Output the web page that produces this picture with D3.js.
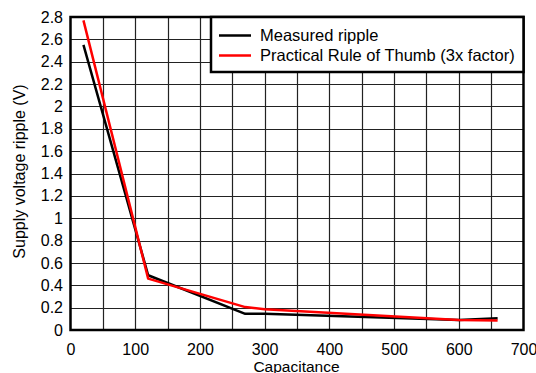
<!DOCTYPE html>
<html><head><meta charset="utf-8">
<script src="https://cdn.jsdelivr.net/npm/d3@7"></script>
<style>body{margin:0;background:#fff}svg{display:block}</style>
</head><body>
<script>
const capacitance = [20, 120, 270, 300, 600, 660];
const measured = [2.55, 0.49, 0.145, 0.145, 0.09, 0.105];
const rcap = [20, 120, 270, 300, 600, 660];
const ruleOfThumb = [2.77, 0.46, 0.205, 0.185, 0.09, 0.085];
const xTicks = [0,100,200,300,400,500,600,700];
const yTicks = [0,0.2,0.4,0.6,0.8,1,1.2,1.4,1.6,1.8,2,2.2,2.4,2.6,2.8];
const seriesNames = ["Measured ripple", "Practical Rule of Thumb (3x factor)"];
const colors = ["#000000", "#ff0000"];

const W = 536, H = 373;
const m = {l:70.5, r:536-523.5, t:17, b:373-330};
const svg = d3.select("body").append("svg").attr("width",W).attr("height",H);
const x = d3.scaleLinear().domain([0,700]).range([m.l, W-m.r]);
const y = d3.scaleLinear().domain([0,2.8]).range([H-m.b, m.t]);
const font = "Liberation Sans, Arial, sans-serif";
const fs = 16;

const g = svg.append("g");
// grid
g.selectAll(".vg").data(d3.range(50,700,50)).enter().append("line")
  .attr("x1",d=>Math.round(x(d))+0.5).attr("x2",d=>Math.round(x(d))+0.5)
  .attr("y1",y(0)).attr("y2",y(2.8)).attr("stroke","#222").attr("stroke-width",1.2);
g.selectAll(".hg").data(yTicks.slice(1,-1)).enter().append("line")
  .attr("y1",d=>Math.round(y(d))+0.5).attr("y2",d=>Math.round(y(d))+0.5)
  .attr("x1",x(0)).attr("x2",x(700)).attr("stroke","#222").attr("stroke-width",1.2);

// axes labels via d3 axes
const xa = svg.append("g").attr("transform",`translate(0,${y(0)})`)
  .call(d3.axisBottom(x).tickValues(xTicks).tickSize(0).tickPadding(0).tickFormat(d3.format("d")));
const ya = svg.append("g").attr("transform",`translate(${x(0)},0)`)
  .call(d3.axisLeft(y).tickValues(yTicks).tickSize(0).tickPadding(7.5).tickFormat(d=>d3.format("~g")(d)));
[xa,ya].forEach(a=>{a.select(".domain").remove();a.selectAll("text").attr("font-family",font).attr("font-size",fs).attr("fill","#000");});
xa.selectAll("text").attr("y",24.5).attr("dy",0);

// lines
const line = d3.line().x(d=>x(d[0])).y(d=>y(d[1]));
svg.append("path").datum(capacitance.map((c,i)=>[c,measured[i]]))
  .attr("d",line).attr("fill","none").attr("stroke",colors[0]).attr("stroke-width",2.5).attr("stroke-linejoin","round");
svg.append("path").datum(rcap.map((c,i)=>[c,ruleOfThumb[i]]))
  .attr("d",line).attr("fill","none").attr("stroke",colors[1]).attr("stroke-width",2.5).attr("stroke-linejoin","round");

// frame
svg.append("rect").attr("x",x(0)).attr("y",y(2.8)).attr("width",x(700)-x(0)).attr("height",y(0)-y(2.8))
  .attr("fill","none").attr("stroke","#000").attr("stroke-width",2.5);

// legend
const lg = svg.append("g");
lg.append("rect").attr("x",211).attr("y",y(2.8)).attr("width",x(700)-211).attr("height",55)
  .attr("fill","#fff").attr("stroke","#000").attr("stroke-width",2.5);
seriesNames.forEach((n,i)=>{
  const yy = 35.5 + i*20;
  lg.append("line").attr("x1",219).attr("x2",251).attr("y1",yy).attr("y2",yy).attr("stroke",colors[i]).attr("stroke-width",2.5);
  lg.append("text").attr("x",260).attr("y",yy+5.5).attr("font-family",font).attr("font-size",16.5).text(n);
});

// titles
svg.append("text").attr("x",296.5).attr("y",371.5).attr("text-anchor","middle")
  .attr("font-family",font).attr("font-size",15.5).text("Capacitance");
svg.append("text").attr("transform",`translate(25,171.5) rotate(-90)`).attr("text-anchor","middle")
  .attr("font-family",font).attr("font-size",fs).text("Supply voltage ripple (V)");
</script>
</body></html>
